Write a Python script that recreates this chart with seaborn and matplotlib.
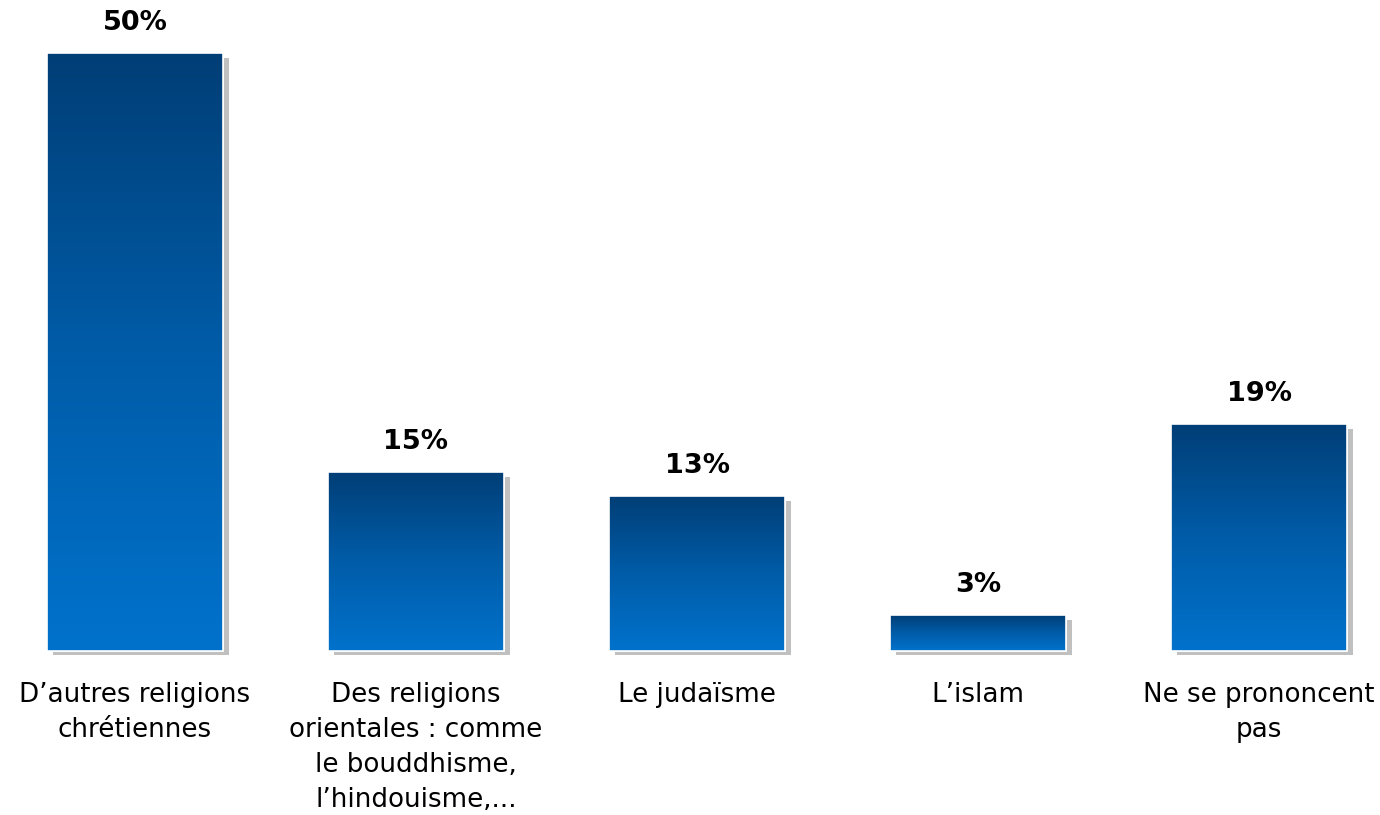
import numpy as np
import pandas as pd
import matplotlib
matplotlib.use("Agg")
import matplotlib.pyplot as plt
import seaborn as sns
from matplotlib.colors import LinearSegmentedColormap
from matplotlib.patches import Rectangle

categories = [
    "D\u2019autres religions\nchrétiennes",
    "Des religions\norientales : comme\nle bouddhisme,\nl\u2019hindouisme,...",
    "Le judaïsme",
    "L\u2019islam",
    "Ne se prononcent\npas",
]
values = [50, 15, 13, 3, 19]
value_labels = ["50%", "15%", "13%", "3%", "19%"]

sns.set_theme(style="white")
plt.rcParams['font.family'] = ['DejaVu Sans']

df = pd.DataFrame({"cat": categories, "val": values})

fig = plt.figure(figsize=(13.8, 8.15), dpi=100)
ax = fig.add_axes([0, 0, 1, 1])
sns.barplot(data=df, x="cat", y="val", ax=ax, width=0.623, color="#0070C8",
            edgecolor="white", linewidth=1.2, zorder=3)

ppu = 11.96
ax.axis("off")

cmap = LinearSegmentedColormap.from_list("g", ["#0072CC", "#005CA8", "#003E76"])
grad = np.linspace(0, 1, 256).reshape(-1, 1)

dx = 6 / 281
dy = 4 / ppu
for p, lab in zip(ax.patches, value_labels):
    x0, w, h = p.get_x(), p.get_width(), p.get_height()
    sh = Rectangle((x0 + dx, -dy), w, h - 1 / ppu, facecolor="#C0C0C0", edgecolor="none", zorder=1)
    ax.add_patch(sh)
    im = ax.imshow(grad, extent=(x0, x0 + w, 0, h), origin="lower", cmap=cmap,
                   aspect="auto", zorder=4, interpolation="bicubic")
    im.set_clip_path(p)
    border = Rectangle((x0, 0), w, h, facecolor="none", edgecolor="white", linewidth=1.2, zorder=5)
    ax.add_patch(border)
    ax.text(x0 + w / 2, h + 30 / ppu, lab, ha="center", va="center",
            fontsize=19.5, fontweight="bold", color="black")

for i, c in enumerate(categories):
    ax.text(i, -31 / ppu, c, ha="center", va="top", fontsize=18.8, color="black",
            linespacing=1.45)

ax.set_xlim(-135 / 281, (1380 - 135) / 281)
ax.set_ylim(-164 / ppu, (815 - 164) / ppu)
fig.savefig("out.png", dpi=100, facecolor="white")
